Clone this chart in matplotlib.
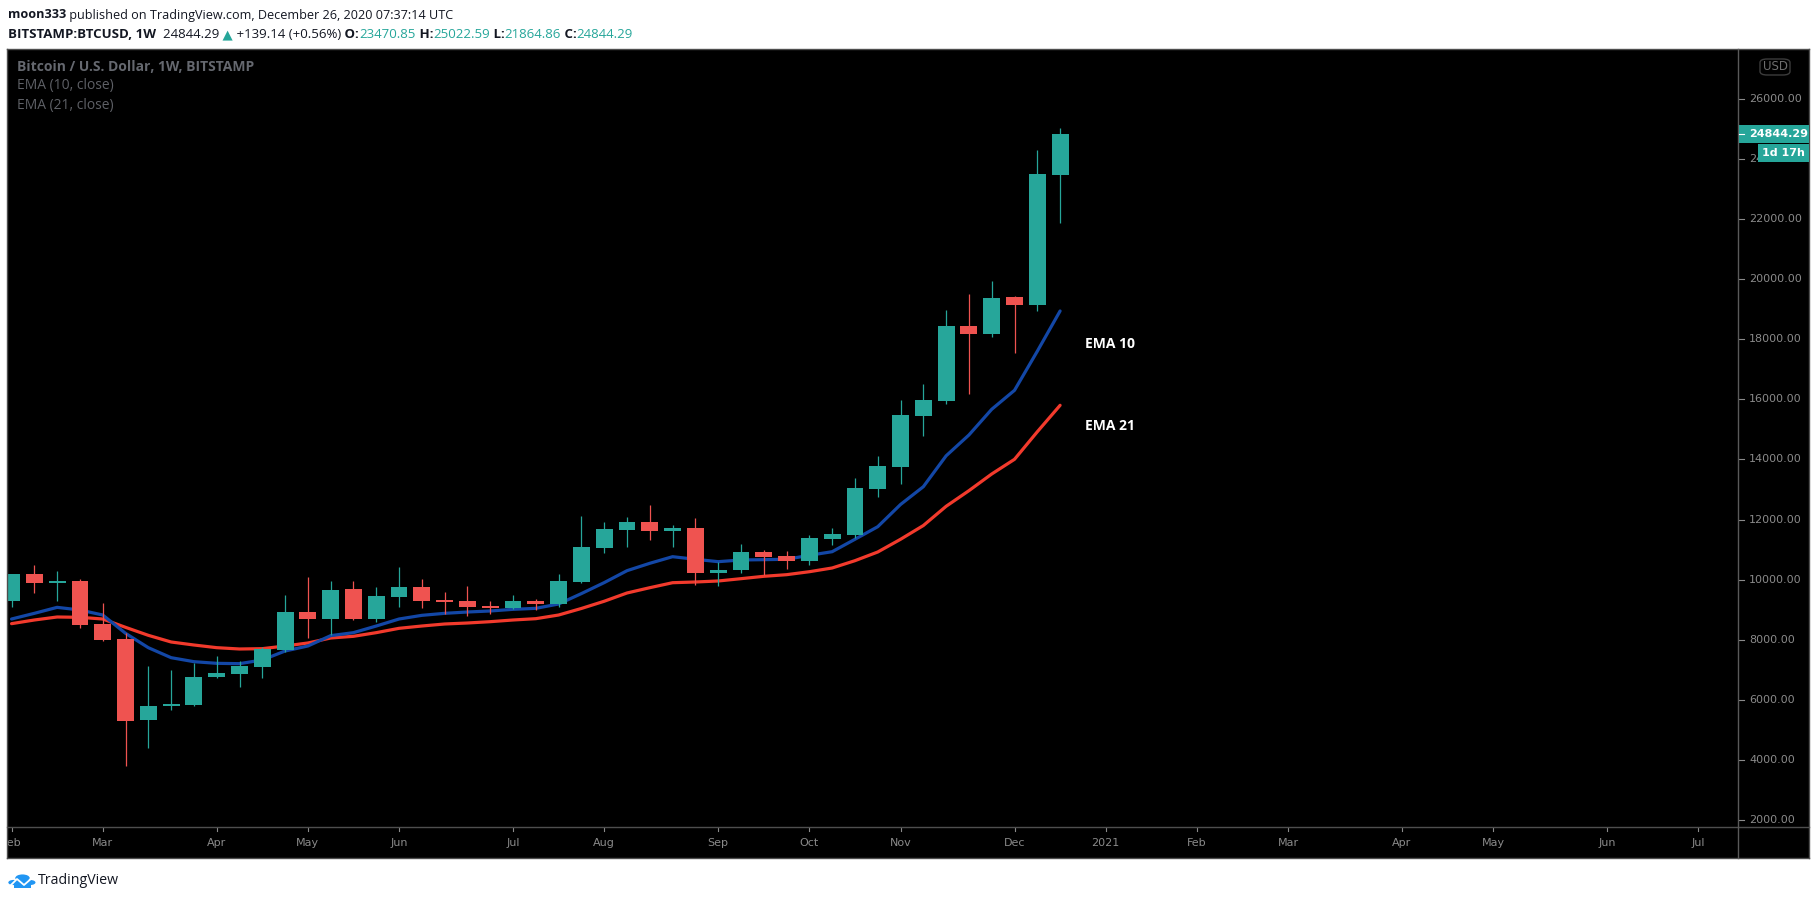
import matplotlib
matplotlib.use('Agg')
import matplotlib.pyplot as plt
import numpy as np
import pandas as pd
from matplotlib.patches import Rectangle, FancyBboxPatch, Polygon, Circle
from matplotlib.lines import Line2D
from matplotlib import font_manager

# ---------------- data ----------------
week_start = pd.date_range('2020-02-03', periods=47, freq='7D')
open_ = [9300, 10187, 9897, 9954, 8523, 8024, 5328, 5804, 5837, 6769,
         6869, 7102, 7668, 8922, 8699, 9688, 8699, 9431, 9754, 9322,
         9288, 9122, 9065, 9288, 9198, 9921, 11062, 11661, 11917, 11628,
         11718, 10230, 10330, 10919, 10786, 10630, 11362, 11495, 13026, 13758,
         15455, 15954, 18440, 18184, 19405, 19149, 23470.85]
high = [10200, 10486, 10287, 10031, 9222, 8213, 7125, 6992, 7215, 7458,
        7292, 7747, 9488, 10087, 9954, 9954, 9754, 10420, 10020, 9588,
        9788, 9288, 9488, 9355, 10187, 12117, 11917, 12084, 12483, 11818,
        12051, 10586, 11185, 10986, 10952, 11485, 11718, 13382, 14114, 15978,
        16510, 18973, 19505, 19938, 19438, 24298, 25022.59]
low = [9080, 9565, 9298, 8400, 7967, 3807, 4406, 5661, 5800, 6736,
       6436, 6736, 7601, 8067, 8157, 8646, 8599, 9099, 9065, 8866,
       8799, 8866, 9032, 8999, 9099, 9900, 10896, 11095, 11328, 11095,
       9831, 9797, 10230, 10154, 10363, 10496, 11162, 11385, 12760, 13192,
       14790, 15855, 16187, 18084, 17552, 18950, 21864.86]
close = [10187, 9897, 9954, 8500, 8000, 5305, 5794, 5860, 6759, 6892,
         7125, 7681, 8922, 8699, 9654, 8699, 9455, 9754, 9298, 9265,
         9099, 9065, 9288, 9198, 9954, 11085, 11684, 11917, 11628, 11718,
         10230, 10320, 10919, 10763, 10630, 11385, 11518, 13049, 13781, 15478,
         15978, 18440, 18184, 19372, 19149, 23499, 24844.29]
ema10 = [8689, 8878, 9077, 8989, 8822, 8213, 7735, 7402, 7269, 7214,
         7203, 7325, 7624, 7791, 8135, 8235, 8456, 8689, 8811, 8878,
         8922, 8956, 9011, 9044, 9188, 9535, 9900, 10297, 10543, 10763,
         10676, 10597, 10653, 10664, 10676, 10809, 10929, 11342, 11761, 12500,
         13092, 14120, 14813, 15668, 16300, 17600, 18940]
ema21 = [8534, 8656, 8756, 8745, 8689, 8412, 8146, 7924, 7824, 7735,
         7691, 7702, 7791, 7891, 8057, 8113, 8235, 8379, 8456, 8523,
         8556, 8600, 8656, 8700, 8822, 9040, 9280, 9555, 9731, 9897,
         9921, 9954, 10031, 10110, 10164, 10263, 10387, 10630, 10919, 11342,
         11800, 12440, 12960, 13515, 14004, 14920, 15801]
price_ticks = [2000, 4000, 6000, 8000, 10000, 12000, 14000, 16000,
               18000, 20000, 22000, 24000, 26000]
axis_end = '2021-07-31'
last_price = 24844.29
countdown = '1d 17h'
ema_labels = ['EMA 10', 'EMA 21']

# ---------------- style ----------------
W, H = 1816, 900
TEAL = '#26a69a'
RED = '#ef5350'
BLUE_LINE = '#1347a6'
RED_LINE = '#f23a2c'
BORDER = '#4e4e4e'
AXTXT = '#8a8a8a'

names = {f.name for f in font_manager.fontManager.ttflist}
if 'Liberation Sans Narrow' in names:
    NARROW = ['Liberation Sans Narrow', 'DejaVu Sans']
    NSIZE = 10.5
else:
    NARROW = ['DejaVu Sans']
    NSIZE = 8.0
UIFONT = ['Open Sans', 'DejaVu Sans']

fig = plt.figure(figsize=(W / 100, H / 100), dpi=100, facecolor='white')


def fx(px):
    return px / W


def fy(py):
    return 1 - py / H


L, R, T, B = 7, 1738, 48.6, 827
RIGHT_EDGE, BOTTOM_EDGE = 1809, 858
xmin, xmax = -0.2, 75.74
ymin, ymax = 1767, 27672

# main plot
ax = fig.add_axes([fx(L), fy(B), (R - L) / W, (B - T) / H])
ax.set_facecolor('black')
ax.set_xlim(xmin, xmax)
ax.set_ylim(ymin, ymax)
for s in ax.spines.values():
    s.set_visible(False)
ax.set_xticks([])
ax.set_yticks([])

idx = np.arange(len(close))
ax.plot(idx, ema21, color=RED_LINE, lw=2.3, zorder=2, solid_capstyle='round', solid_joinstyle='round')
ax.plot(idx, ema10, color=BLUE_LINE, lw=2.3, zorder=2, solid_capstyle='round', solid_joinstyle='round')
for i in idx:
    o, h, l, c = open_[i], high[i], low[i], close[i]
    col = TEAL if c >= o else RED
    ax.vlines(i, l, h, color=col, lw=0.9, zorder=3)
    bot = min(o, c)
    hgt = max(abs(c - o), 45)
    ax.bar(i, hgt, bottom=bot, width=0.74, color=col, zorder=4, linewidth=0)

# price axis
axp = fig.add_axes([fx(R), fy(B), (RIGHT_EDGE - R) / W, (B - T) / H])
axp.set_facecolor('black')
axp.set_xlim(0, RIGHT_EDGE - R)
axp.set_ylim(ymin, ymax)
for s in axp.spines.values():
    s.set_visible(False)
axp.set_xticks([])
axp.set_yticks([])
for p in price_ticks:
    axp.plot([0, 6], [p, p], color=AXTXT, lw=0.8)
    axp.text(11, p, f'{p:.2f}', color=AXTXT, fontsize=NSIZE, family=NARROW,
             va='center', ha='left')

# time axis
axx = fig.add_axes([fx(L), fy(BOTTOM_EDGE), (R - L) / W, (BOTTOM_EDGE - B) / H])
axx.set_facecolor('black')
axx.set_xlim(xmin, xmax)
axx.set_ylim(0, BOTTOM_EDGE - B)
for s in axx.spines.values():
    s.set_visible(False)
axx.set_xticks([])
axx.set_yticks([])
all_weeks = pd.date_range(week_start[0], axis_end, freq='7D')
seen = set()
for k, d in enumerate(all_weeks):
    key = (d.year, d.month)
    if key in seen:
        continue
    seen.add(key)
    lab = str(d.year) if d.month == 1 else d.strftime('%b')
    axx.plot([k, k], [BOTTOM_EDGE - B, BOTTOM_EDGE - B - 4], color=AXTXT, lw=0.8, clip_on=True)
    axx.text(k, 15, lab, color=AXTXT, fontsize=NSIZE, family=NARROW,
             ha='center', va='center', clip_on=True)

# corner under price axis
axc = fig.add_axes([fx(R), fy(BOTTOM_EDGE), (RIGHT_EDGE - R) / W, (BOTTOM_EDGE - B) / H])
axc.set_facecolor('black')
axc.set_xticks([]); axc.set_yticks([])
for s in axc.spines.values():
    s.set_visible(False)


# borders
def hline(y, x0, x1, color=BORDER, lw=1.0):
    fig.add_artist(Line2D([fx(x0), fx(x1)], [fy(y), fy(y)], color=color, lw=lw, transform=fig.transFigure))


def vline(x, y0, y1, color=BORDER, lw=1.0):
    fig.add_artist(Line2D([fx(x), fx(x)], [fy(y0), fy(y1)], color=color, lw=lw, transform=fig.transFigure))


hline(T, L, RIGHT_EDGE)
hline(BOTTOM_EDGE, L, RIGHT_EDGE)
hline(B, L, RIGHT_EDGE)
vline(L, T, BOTTOM_EDGE)
vline(RIGHT_EDGE, T, BOTTOM_EDGE)
vline(R, T, BOTTOM_EDGE, color='#5a5a5a')


def rect_px(x0, y0, x1, y1, color, z=5):
    fig.add_artist(Rectangle((fx(x0), fy(y1)), (x1 - x0) / W, (y1 - y0) / H,
                             transform=fig.transFigure, facecolor=color,
                             edgecolor='none', zorder=z))


def val_to_py(v):
    return B - (v - ymin) / (ymax - ymin) * (B - T)


# current price label + countdown
py_last = val_to_py(last_price)
rect_px(R + 1, py_last - 9, RIGHT_EDGE, py_last + 9, TEAL, z=5)
fig.add_artist(Line2D([fx(R + 1), fx(R + 6)], [fy(py_last), fy(py_last)], color='white', lw=0.8,
                      transform=fig.transFigure, zorder=6))
fig.text(fx(R + 11), fy(py_last), f'{last_price:.2f}', color='white', fontsize=NSIZE,
         family=NARROW, fontweight='bold', va='center', ha='left', zorder=7)
rect_px(1758, py_last + 10, RIGHT_EDGE, py_last + 28, TEAL, z=5)
fig.text(fx(1783), fy(py_last + 19), countdown, color='white', fontsize=NSIZE,
         family=NARROW, fontweight='bold', va='center', ha='center', zorder=7)

# USD box
fig.add_artist(FancyBboxPatch((fx(1760), fy(75)), 30 / W, 16 / H,
                              boxstyle='round,pad=0,rounding_size=0.004',
                              transform=fig.transFigure, facecolor='black',
                              edgecolor='#3c3c3c', lw=1, zorder=5))
fig.text(fx(1775), fy(67), 'USD', color='#6e6e6e', fontsize=8.5, family=NARROW,
         ha='center', va='center', zorder=7)

# legend texts inside chart
fig.text(fx(17), fy(67), 'Bitcoin / U.S. Dollar, 1W, BITSTAMP', color='#65686f',
         fontsize=10, fontweight='bold', family=UIFONT, va='center', ha='left')
fig.text(fx(17), fy(86), 'EMA (10, close)', color='#5e6066', fontsize=10,
         family=UIFONT, va='center', ha='left')
fig.text(fx(17), fy(105), 'EMA (21, close)', color='#5e6066', fontsize=10,
         family=UIFONT, va='center', ha='left')

# EMA annotations
fig.text(fx(1085), fy(344), ema_labels[0], color='white', fontsize=10, fontweight='bold',
         family=UIFONT, va='center', ha='left')
fig.text(fx(1085), fy(426), ema_labels[1], color='white', fontsize=10, fontweight='bold',
         family=UIFONT, va='center', ha='left')

# header
renderer = fig.canvas.get_renderer()


def chain(x, y, parts, size=9.5):
    for s, color, weight in parts:
        t = fig.text(fx(x), fy(y), s, color=color, fontweight=weight, fontsize=size,
                     family=UIFONT, va='center', ha='left')
        x += t.get_window_extent(renderer).width


DARK = '#131722'
chain(8, 15, [('moon333', DARK, 'bold'),
              (' published on TradingView.com, December 26, 2020 07:37:14 UTC', DARK, 'normal')],
      size=9.1)
chain(8, 35, [('BITSTAMP:BTCUSD, 1W', DARK, 'bold'),
              ('  24844.29', DARK, 'normal'),
              (' ▲', TEAL, 'normal'),
              (' +139.14 (+0.56%)', DARK, 'normal'),
              (' O:', DARK, 'bold'), ('23470.85', TEAL, 'normal'),
              (' H:', DARK, 'bold'), ('25022.59', TEAL, 'normal'),
              (' L:', DARK, 'bold'), ('21864.86', TEAL, 'normal'),
              (' C:', DARK, 'bold'), ('24844.29', TEAL, 'normal')])

# TradingView footer logo (cloud with zigzag)
LOGO = '#2196f3'
for (cx, cy, r) in [(13.5, 882.5, 5.2), (22.5, 878.0, 7.2), (30.5, 882.5, 5.0)]:
    fig.add_artist(Circle((fx(cx), fy(cy)), r / W, transform=fig.transFigure,
                          facecolor=LOGO, edgecolor='none'))
rect_px(13.5, 880, 30.5, 887.5, LOGO, z=1)
fig.add_artist(Line2D([fx(11), fx(17), fx(24), fx(32)], [fy(885), fy(879), fy(885), fy(878)],
                      color='white', lw=1.3, transform=fig.transFigure, zorder=2))
fig.text(fx(38), fy(880), 'TradingView', color='#131722', fontsize=10.2, family=UIFONT,
         va='center', ha='left')

fig.savefig('out.png', dpi=100, facecolor='white')
